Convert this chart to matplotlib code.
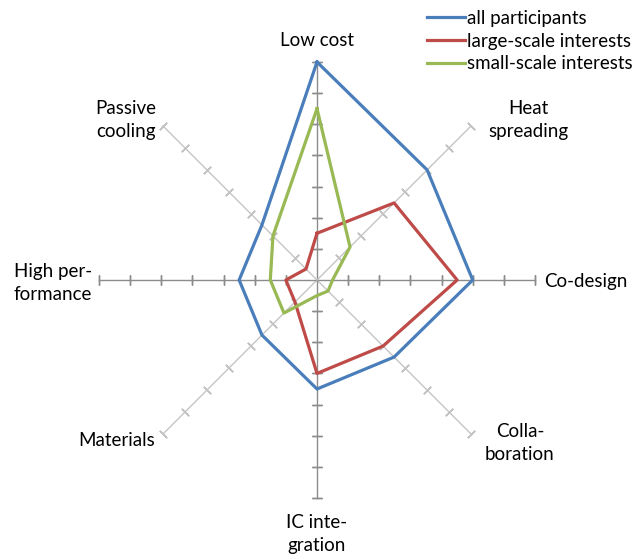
import numpy as np
import matplotlib
matplotlib.use("Agg")
import matplotlib.pyplot as plt

plt.rcParams['font.family'] = ['Lato', 'DejaVu Sans']

# categories clockwise from the top
categories = ['Low cost', 'Heat\nspreading', 'Co-design', 'Colla-\nboration',
              'IC inte-\ngration', 'Materials', 'High per-\nformance', 'Passive\ncooling']
all_participants = [7.0, 5.0, 5.0, 3.5, 3.5, 2.5, 2.5, 2.5]
large_scale = [1.5, 3.5, 4.5, 3.0, 3.0, 1.0, 1.0, 0.5]
small_scale = [5.5, 1.5, 0.5, 0.5, 0.5, 1.5, 1.5, 2.0]
series_names = ['all participants', 'large-scale interests', 'small-scale interests']
series_colors = ['#4a7ebb', '#be4b48', '#98b954']
r_max = 7

W, H = 639, 559
fig = plt.figure(figsize=(W / 100, H / 100), dpi=100)
# centre (317, 280) px, radius 218 px
cx, cy, R = 317, 280, 218
ax = fig.add_axes([(cx - R) / W, (H - cy - R) / H, 2 * R / W, 2 * R / H], projection='polar')
ax.set_theta_zero_location('N')
ax.set_theta_direction(-1)
ax.set_ylim(0, r_max)
ax.grid(False)
ax.set_xticks([])
ax.set_yticks([])
ax.spines['polar'].set_visible(False)
ax.patch.set_alpha(0)

n = len(categories)
angles = np.arange(n) * 2 * np.pi / n

# spokes with cross ticks
for i, th in enumerate(angles):
    deg = i * 360 / n
    col = '#8c8c8c' if i % 2 == 0 else '#c4c4c4'
    ax.plot([th, th], [0, r_max], color=col, lw=1, clip_on=False, zorder=1)
    ax.plot([th] * r_max, np.arange(1, r_max + 1), linestyle='none',
            marker=(2, 2, 90 - deg), markersize=7.5, markeredgecolor=col,
            markeredgewidth=1, clip_on=False, zorder=1)

handles = []
for vals, name, c in zip([all_participants, large_scale, small_scale], series_names, series_colors):
    th = np.append(angles, angles[0])
    rr = np.append(vals, vals[0])
    h, = ax.plot(th, rr, color=c, lw=2.3, clip_on=False, zorder=3, label=name)
    handles.append(h)

# category labels (pixel positions)
label_pos = [(317, 40), (528, 120), (586, 281), (520, 443),
             (317, 534), (117, 440), (53, 283), (126, 120)]
for lab, (x, y) in zip(categories, label_pos):
    fig.text(x / W, 1 - y / H, lab, ha='center', va='center', fontsize=13.5,
             linespacing=1.4, color='black')

fig.legend(handles, series_names, loc='upper left', bbox_to_anchor=(427 / W, 1 - 10 / H),
           frameon=False, fontsize=13.5, handlelength=2.0, handletextpad=0.15,
           labelspacing=0.3, borderpad=0, borderaxespad=0)

fig.savefig('out.png', dpi=100)
